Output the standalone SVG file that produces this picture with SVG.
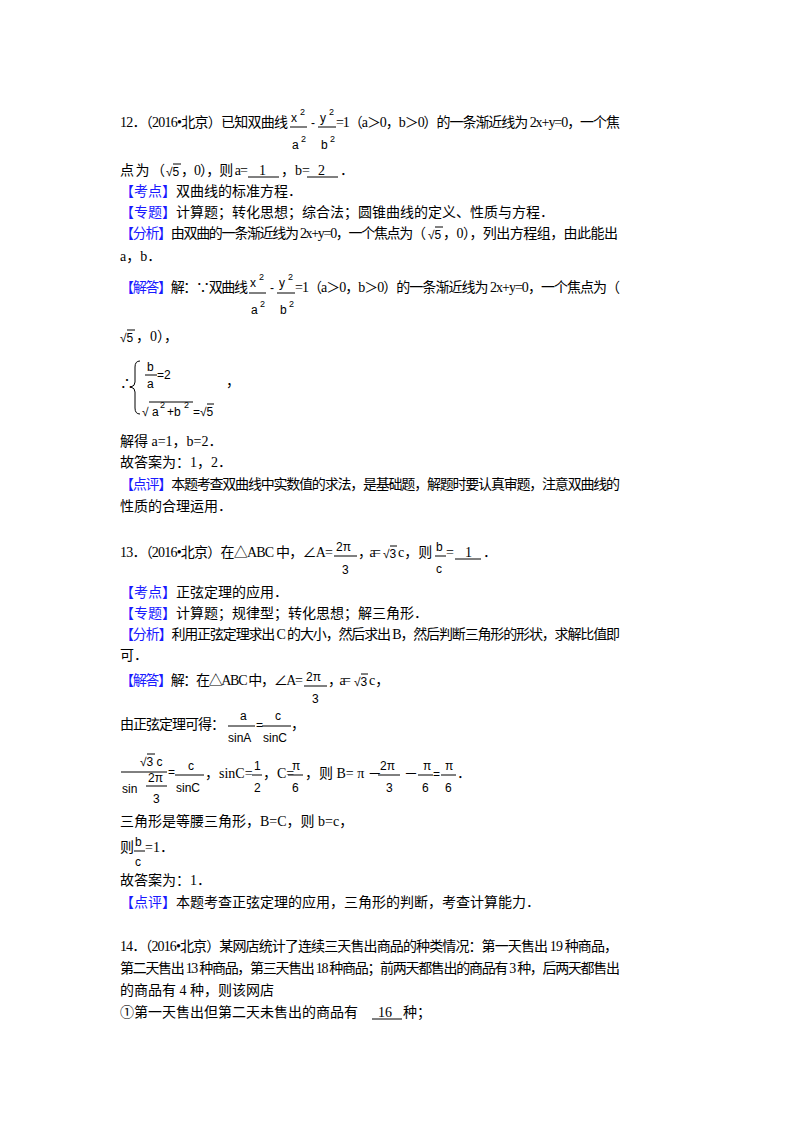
<svg xmlns="http://www.w3.org/2000/svg" width="800" height="1132" viewBox="0 0 800 1132">
<style>
text{font-family:"Liberation Serif","Noto Sans CJK SC",serif;font-size:14px;fill:#000}
.b{fill:#1a1aff}
.s{font-family:"Liberation Sans","Noto Sans CJK SC",sans-serif;font-size:12px}
.sup{font-size:9px}
line{stroke:#000;stroke-width:1}
</style>
<rect width="800" height="1132" fill="#fff"/>
<!-- Q12 -->
<text x="120" y="127" textLength="168">12．（2016•北京）已知双曲线</text>
<text class="s" x="291" y="122">x</text><text class="sup s" x="300" y="115">2</text>
<line x1="290" y1="127" x2="307" y2="127"/>
<text class="s" x="292" y="149">a</text><text class="sup s" x="301" y="142">2</text>
<text class="s" x="311" y="127">-</text>
<text class="s" x="320" y="122">y</text><text class="sup s" x="329" y="115">2</text>
<line x1="318" y1="127" x2="336" y2="127"/>
<text class="s" x="321" y="149">b</text><text class="sup s" x="330" y="142">2</text>
<text x="336" y="127" textLength="284">=1（a＞0，b＞0）的一条渐近线为 2x+y=0，一个焦</text>
<text x="120" y="175" textLength="45">点为（</text><text class="s" x="166" y="176">√5</text><line x1="173" y1="164" x2="181" y2="164"/><text x="181" y="175" textLength="67">，0），则 a=</text>
<line x1="248" y1="177" x2="279" y2="177"/><text x="259" y="175">1</text>
<text x="281" y="175">，b=</text><line x1="307" y1="177" x2="338" y2="177"/><text x="318" y="175">2</text><text x="340" y="175">．</text>
<text x="120" y="196"><tspan class="b">【考点】</tspan>双曲线的标准方程．</text>
<text x="120" y="217"><tspan class="b">【专题】</tspan>计算题；转化思想；综合法；圆锥曲线的定义、性质与方程．</text>
<text x="120" y="238" textLength="306"><tspan class="b">【分析】</tspan>由双曲的一条渐近线为 2x+y=0，一个焦点为（</text>
<text class="s" x="428" y="239">√5</text><line x1="435" y1="227" x2="443" y2="227"/><text x="443" y="238" textLength="175">，0），列出方程组，由此能出</text>
<text x="120" y="261">a，b．</text>
<text x="120" y="292" textLength="128"><tspan class="b">【解答】</tspan>解：∵双曲线</text>
<text class="s" x="250" y="287">x</text><text class="sup s" x="259" y="280">2</text>
<line x1="249" y1="293" x2="266" y2="293"/>
<text class="s" x="251" y="314">a</text><text class="sup s" x="260" y="307">2</text>
<text class="s" x="270" y="292">-</text>
<text class="s" x="279" y="287">y</text><text class="sup s" x="288" y="280">2</text>
<line x1="277" y1="293" x2="295" y2="293"/>
<text class="s" x="280" y="314">b</text><text class="sup s" x="289" y="307">2</text>
<text x="295" y="292" textLength="325">=1（a＞0，b＞0）的一条渐近线为 2x+y=0，一个焦点为（</text>
<text class="s" x="120" y="342">√5</text><line x1="127" y1="330" x2="135" y2="330"/><text x="136" y="341">，0），</text>
<text x="120" y="388">∴</text>
<path d="M140 361 Q135 361 135 367 L135 382 Q135 386 131 387 Q135 388 135 392 L135 408 Q135 414 140 414" fill="none" stroke="#000" stroke-width="1"/>
<text class="s" x="147" y="371">b</text><line x1="145" y1="375" x2="157" y2="375"/><text class="s" x="147" y="388">a</text>
<text class="s" x="157" y="379">=2</text>
<text class="s" x="142" y="416">√</text><line x1="149" y1="402" x2="193" y2="402"/>
<text class="s" x="152" y="416">a</text><text class="sup s" x="160" y="408">2</text><text class="s" x="167" y="416">+b</text><text class="sup s" x="184" y="408">2</text>
<text class="s" x="193" y="416">=√5</text><line x1="207" y1="404" x2="214" y2="404"/>
<text x="226" y="386">，</text>
<text x="120" y="446">解得 a=1，b=2．</text>
<text x="120" y="467">故答案为：1，2．</text>
<text x="120" y="489" textLength="500"><tspan class="b">【点评】</tspan>本题考查双曲线中实数值的求法，是基础题，解题时要认真审题，注意双曲线的</text>
<text x="120" y="511">性质的合理运用．</text>
<!-- Q13 -->
<text x="120" y="557" textLength="213">13．（2016•北京）在△ABC 中，∠A=</text>
<text class="s" x="336" y="551">2π</text><line x1="334" y1="556" x2="357" y2="556"/><text class="s" x="342" y="574">3</text>
<text x="358" y="557" textLength="23">，a=</text><text class="s" x="383" y="558">√3</text><line x1="390" y1="546" x2="397" y2="546"/><text x="398" y="557">c，则</text>
<text class="s" x="436" y="551">b</text><line x1="435" y1="556" x2="446" y2="556"/><text class="s" x="436" y="573">c</text>
<text x="446" y="557">=</text><line x1="455" y1="559" x2="481" y2="559"/><text x="465" y="557">1</text><text x="483" y="557">．</text>
<text x="120" y="597"><tspan class="b">【考点】</tspan>正弦定理的应用．</text>
<text x="120" y="618"><tspan class="b">【专题】</tspan>计算题；规律型；转化思想；解三角形．</text>
<text x="120" y="639" textLength="500"><tspan class="b">【分析】</tspan>利用正弦定理求出 C 的大小，然后求出 B，然后判断三角形的形状，求解比值即</text>
<text x="120" y="660">可．</text>
<text x="120" y="685" textLength="183"><tspan class="b">【解答】</tspan>解：在△ABC 中，∠A=</text>
<text class="s" x="306" y="681">2π</text><line x1="304" y1="686" x2="327" y2="686"/><text class="s" x="312" y="703">3</text>
<text x="328" y="685" textLength="23">，a=</text><text class="s" x="354" y="686">√3</text><line x1="361" y1="674" x2="368" y2="674"/><text x="369" y="685">c，</text>
<text x="120" y="729" textLength="105">由正弦定理可得：</text>
<text class="s" x="240" y="720">a</text><line x1="228" y1="726" x2="255" y2="726"/><text class="s" x="228" y="742">sinA</text>
<text class="s" x="256" y="729">=</text>
<text class="s" x="275" y="720">c</text><line x1="262" y1="726" x2="291" y2="726"/><text class="s" x="263" y="742">sinC</text>
<text x="291" y="729">，</text>
<text class="s" x="140" y="766">√3 c</text><line x1="147" y1="754" x2="155" y2="754"/><line x1="121" y1="772" x2="167" y2="772"/>
<text class="s" x="122" y="793">sin</text><text class="s" x="148" y="782">2π</text><line x1="146" y1="786" x2="167" y2="786"/><text class="s" x="153" y="803">3</text>
<text class="s" x="168" y="776">=</text>
<text class="s" x="188" y="770">c</text><line x1="175" y1="775" x2="204" y2="775"/><text class="s" x="176" y="792">sinC</text>
<text x="205" y="778">，sinC=</text>
<text class="s" x="254" y="770">1</text><line x1="252" y1="775" x2="262" y2="775"/><text class="s" x="254" y="792">2</text>
<text x="263" y="778">，C=</text>
<text class="s" x="292" y="770">π</text><line x1="288" y1="775" x2="303" y2="775"/><text class="s" x="292" y="792">6</text>
<text x="305" y="778">，则 B= π －</text>
<text class="s" x="380" y="770">2π</text><line x1="378" y1="775" x2="400" y2="775"/><text class="s" x="386" y="792">3</text>
<text x="404" y="778">－</text>
<text class="s" x="423" y="770">π</text><line x1="418" y1="775" x2="433" y2="775"/><text class="s" x="422" y="792">6</text>
<text class="s" x="433" y="778">=</text>
<text class="s" x="445" y="770">π</text><line x1="441" y1="775" x2="456" y2="775"/><text class="s" x="445" y="792">6</text>
<text x="457" y="778">．</text>
<text x="120" y="826">三角形是等腰三角形，B=C，则 b=c，</text>
<text x="120" y="852">则</text>
<text class="s" x="135" y="846">b</text><line x1="134" y1="851" x2="145" y2="851"/><text class="s" x="135" y="866">c</text>
<text x="145" y="852">=1．</text>
<text x="120" y="885">故答案为：1．</text>
<text x="120" y="907"><tspan class="b">【点评】</tspan>本题考查正弦定理的应用，三角形的判断，考查计算能力．</text>
<!-- Q14 -->
<text x="120" y="951" textLength="498">14．（2016•北京）某网店统计了连续三天售出商品的种类情况：第一天售出 19 种商品，</text>
<text x="120" y="973" textLength="500">第二天售出 13 种商品，第三天售出 18 种商品；前两天都售出的商品有 3 种，后两天都售出</text>
<text x="120" y="995">的商品有 4 种，则该网店</text>
<text x="120" y="1017">①第一天售出但第二天未售出的商品有</text>
<line x1="372" y1="1019" x2="402" y2="1019"/><text x="378" y="1017">16</text><text x="403" y="1017">种；</text>
</svg>
